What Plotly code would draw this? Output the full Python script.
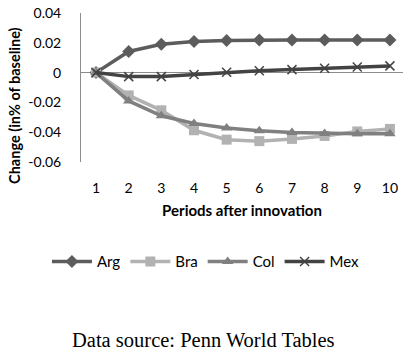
import plotly.graph_objects as go

# Periods after the innovation and the response of each country (change in % of baseline)
periods = [1, 2, 3, 4, 5, 6, 7, 8, 9, 10]
arg = [0.0, 0.0142, 0.0190, 0.0209, 0.0215, 0.0218, 0.0218, 0.0218, 0.0218, 0.0218]
bra = [0.0, -0.0153, -0.0253, -0.0387, -0.0450, -0.0460, -0.0445, -0.0425, -0.0395, -0.0378]
col = [0.0, -0.0190, -0.0290, -0.0342, -0.0372, -0.0390, -0.0402, -0.0408, -0.0410, -0.0410]
mex = [0.0, -0.0027, -0.0027, -0.0013, 0.0002, 0.0013, 0.0020, 0.0029, 0.0038, 0.0045]

y_ticks = [0.04, 0.02, 0.0, -0.02, -0.04, -0.06]
y_tick_labels = ["0.04", "0.02", "0", "-0.02", "-0.04", "-0.06"]

series = [
    ("Arg", arg, "#5c5c5c", "diamond", 10),
    ("Bra", bra, "#b2b2b2", "square", 10),
    ("Col", col, "#808080", "triangle-up", 10),
    ("Mex", mex, "#434343", "x-thin", 9),
]

fig = go.Figure()
for name, vals, color, symbol, size in series:
    marker = dict(symbol=symbol, size=size, color=color)
    if symbol == "x-thin":
        marker["line"] = dict(width=1.5, color=color)
    fig.add_trace(go.Scatter(
        x=periods, y=vals, name=name, mode="lines+markers",
        line=dict(color=color, width=3.5), marker=marker,
    ))

font_sans = "Lato, 'Open Sans', sans-serif"

fig.update_layout(
    width=403, height=351,
    margin=dict(l=81, r=0, t=13, b=189),
    paper_bgcolor="white", plot_bgcolor="white",
    font=dict(family=font_sans, size=14, color="#000000"),
    showlegend=True,
    legend=dict(
        orientation="h", x=0.388, xanchor="center", y=-0.67, yanchor="middle",
        font=dict(size=15), itemwidth=40, tracegroupgap=0,
    ),
    xaxis=dict(
        range=[0.54, 10.4], tickmode="array", tickvals=periods,
        showgrid=False, showline=False, zeroline=False, ticks="",
        ticklabelstandoff=16,
        title=dict(text="<b>Periods after innovation</b>", font=dict(size=15), standoff=10),
    ),
    yaxis=dict(
        range=[-0.06, 0.04], tickmode="array", tickvals=y_ticks, ticktext=y_tick_labels,
        showgrid=False, showline=True, linecolor="#8c8c8c", linewidth=1,
        zeroline=True, zerolinecolor="#8c8c8c", zerolinewidth=1,
        ticks="", ticklabelstandoff=16,
    ),
    annotations=[
        dict(
            text="<b>Change (in% of baseline)</b>", xref="paper", yref="paper",
            x=-0.205, y=0.383, xanchor="center", yanchor="middle", textangle=-90,
            showarrow=False, font=dict(size=14.5, color="#000000"),
        ),
        dict(
            text="Data source: Penn World Tables", xref="paper", yref="paper",
            x=0.379, y=-1.195, xanchor="center", yanchor="middle", showarrow=False,
            font=dict(family="'Liberation Serif', 'Times New Roman', serif", size=20.5, color="#000000"),
        ),
    ],
)

fig.write_html("out.html")
